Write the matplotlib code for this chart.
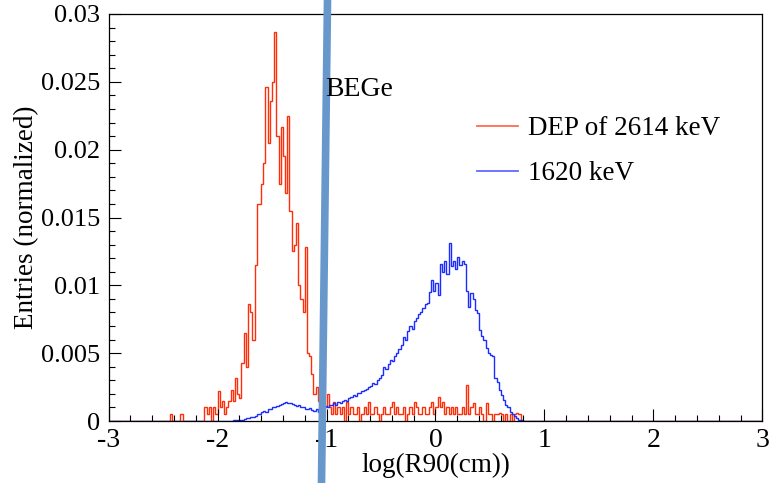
import numpy as np
import matplotlib
matplotlib.use("Agg")
import matplotlib.pyplot as plt
from matplotlib.lines import Line2D
from matplotlib.ticker import MultipleLocator, FuncFormatter

plt.rcParams['font.family'] = ['Liberation Serif', 'DejaVu Serif']
plt.rcParams['axes.unicode_minus'] = False

# histogram binning of log(R90(cm))
bin_width = 0.02
x_min, x_max = -3.0, 3.0

# DEP of 2614 keV, entries (normalized) in units of 1e-3, first bin starts at dep_start
dep_start = -2.46
dep_e3 = [
    0, 0.5, 0, 0, 0, 0, 0.5, 0, 0, 0, 0, 0, 0, 0, 0, 0,          # -2.46 .. -2.16
    0, 1.0, 0.5, 1.0, 0, 1.0, 0.5, 2.2, 1.0, 1.5, 0.5, 1.0,      # -2.14 .. -1.92
    1.5, 2.3, 1.5, 3.2, 2.0, 1.7, 4.3, 6.5, 4.0, 8.6, 8.0, 6.0,  # -1.90 .. -1.68
    11.5, 16.0, 16.0, 17.5, 19.0, 24.6, 20.5, 23.6, 25.0,        # -1.66 .. -1.50
    28.7, 21.0, 17.5, 21.7, 19.5, 16.8, 22.5, 15.5, 12.5, 13.0,  # -1.48 .. -1.30
    14.6, 10.0, 9.0, 8.0, 12.8, 5.0, 4.8, 3.5, 2.0, 2.5,         # -1.28 .. -1.10
    1.5, 1.0, 0.5, 1.0, 2.0,                                     # -1.10 .. -1.02
    1.0, 0.5, 1.4, 0.5, 1.0, 0.5, 1.0, 0, 1.4, 0.5,              # -1.00 .. -0.82
    1.0, 0.5, 0.5, 1.0, 0, 0.5, 1.0, 0.5, 1.4, 0.5,              # -0.80 .. -0.62
    0.5, 1.0, 0.5, 0, 0.5, 1.0, 0.5, 0.5, 1.0, 1.4,              # -0.60 .. -0.42
    0.5, 1.0, 0.5, 0.5, 1.0, 0, 0.5, 1.0, 0.5, 1.4,              # -0.40 .. -0.22
    1.0, 0.5, 0.5, 1.0, 0.5, 0.5, 1.0, 1.4, 0.5, 1.0,            # -0.20 .. -0.02
    1.8, 1.0, 1.4, 0.5, 1.0, 0.5, 1.0, 0.5, 1.0, 0.5,            # 0.00 .. 0.18
    0.5, 1.0, 0.5, 2.65, 0.5, 1.0, 1.3, 0.5, 0.5, 1.0,           # 0.20 .. 0.38
    0.5, 0, 1.3, 0.5, 0.5, 0, 0.5, 0.5, 0.6, 0.5,                # 0.40 .. 0.58
    0, 0.5, 0, 0.5, 0, 0.5, 0.6, 0.5,                            # 0.60 .. 0.74
]

# 1620 keV, entries (normalized) in units of 1e-3
fep_start = -1.86
fep_e3 = [
    0.05, 0.05, 0.1, 0.1, 0.1, 0.15, 0.2, 0.2, 0.3, 0.3,         # -1.86 .. -1.68
    0.35, 0.5, 0.55, 0.65, 0.75, 0.7, 0.9, 0.85, 1.0, 1.05,      # -1.66 .. -1.48
    1.1, 1.2, 1.25, 1.3, 1.4, 1.35, 1.3, 1.25, 1.2, 1.1,         # -1.46 .. -1.28
    1.15, 1.0, 1.05, 0.9, 0.85, 0.95, 0.8, 0.75, 0.85, 0.7,      # -1.26 .. -1.08
    0.9, 0.95, 1.1, 1.0, 1.2, 1.15, 1.3, 1.2, 1.4, 1.3,          # -1.06 .. -0.88
    1.5, 1.55, 1.5, 1.7, 1.75, 1.9, 1.85, 2.05, 2.1, 2.2,        # -0.86 .. -0.68
    2.3, 2.35, 2.5, 2.6, 2.8, 2.75, 3.0, 3.2, 3.4, 4.0,          # -0.66 .. -0.48
    3.8, 4.2, 4.5, 4.4, 4.8, 5.0, 5.3, 5.6, 6.2, 6.0,            # -0.46 .. -0.28
    6.6, 7.0, 6.8, 7.4, 7.6, 7.9, 8.0, 8.3, 8.6, 8.7,            # -0.26 .. -0.08
    9.5, 10.4, 9.6, 10.2, 9.3, 11.6, 11.0, 11.8, 10.8, 13.1,     # -0.06 .. 0.12
    11.4, 11.8, 11.2, 12.1, 11.5, 11.8, 11.6, 9.6, 8.4, 9.4,     # 0.14 .. 0.32
    9.0, 8.2, 7.95, 6.7, 6.3, 5.97, 5.4, 5.0, 4.9, 4.8,          # 0.34 .. 0.52
    3.2, 2.9, 2.3, 1.9, 1.55, 1.2, 1.0, 0.69, 0.5, 0.35,         # 0.54 .. 0.72
    0.2, 0.1, 0.05,                                              # 0.74 .. 0.78
]

labels = ['DEP of 2614 keV', '1620 keV']
colors = ['#ff2e0a', '#1a2cff']


def full_hist(start, vals_e3):
    edges = np.linspace(x_min, x_max, int(round((x_max - x_min) / bin_width)) + 1)
    counts = np.zeros(len(edges) - 1)
    i0 = int(round((start - x_min) / bin_width))
    counts[i0:i0 + len(vals_e3)] = np.array(vals_e3) * 1e-3
    return edges, counts


fig = plt.figure(figsize=(7.7, 4.83), dpi=100)
ax = fig.add_axes([108.5 / 770, 1 - 421 / 483, 654 / 770, 407 / 483])

for (start, vals), lab, col in zip([(dep_start, dep_e3), (fep_start, fep_e3)], labels, colors):
    edges, counts = full_hist(start, vals)
    ax.stairs(counts, edges, color=col, lw=1.0, label=lab)

ax.set_xlim(x_min, x_max)
ax.set_ylim(0, 0.03)

ax.xaxis.set_major_locator(MultipleLocator(1))
ax.xaxis.set_minor_locator(MultipleLocator(0.2))
ax.yaxis.set_major_locator(MultipleLocator(0.005))
ax.yaxis.set_minor_locator(MultipleLocator(0.001))
ax.yaxis.set_major_formatter(FuncFormatter(lambda v, p: f'{v:g}'))
ax.xaxis.set_major_formatter(FuncFormatter(lambda v, p: f'{v:g}'))
ax.tick_params(which='both', direction='in', top=False, right=False, width=0.8)
ax.tick_params(axis='y', labelsize=19, pad=6)
ax.tick_params(axis='x', labelsize=20, pad=5)
ax.tick_params(which='major', length=8.5)
ax.tick_params(which='minor', length=4)
for s in ax.spines.values():
    s.set_linewidth(0.9)

ax.set_xlabel('log(R90(cm))', fontsize=19.5, labelpad=0)
ax.set_ylabel('Entries (normalized)', fontsize=19.5, labelpad=1)

leg = ax.legend(loc='upper left', bbox_to_anchor=(477 / 770, 1 - 116 / 483),
                bbox_transform=fig.transFigure, frameon=False, fontsize=19.5,
                handlelength=1.5, handletextpad=0.4, labelspacing=0.75,
                borderaxespad=0, borderpad=0)
for h in leg.get_lines():
    h.set_linewidth(1.3)
    h.set_alpha(0.7)

fig.text(325 / 770, 1 - 96 / 483, 'BEGe', fontsize=20, va='baseline', ha='left')

# thick slanted marker line drawn over the whole figure
fig.add_artist(Line2D([327.5 / 770, 321.5 / 770], [1.0, 0.0], transform=fig.transFigure,
                      color='#6897cc', lw=5.5, solid_capstyle='butt'))

fig.savefig('out.png', dpi=100)
plt.close(fig)
